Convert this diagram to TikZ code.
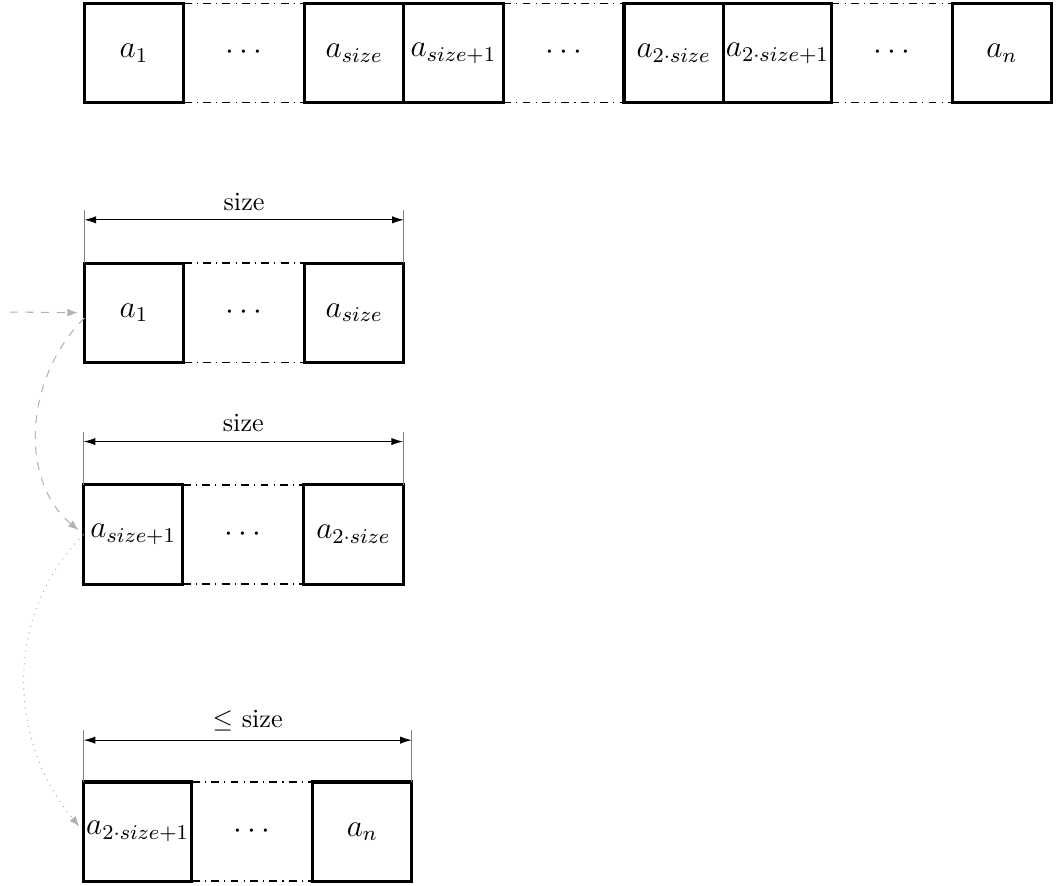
\documentclass[tikz,border=0pt]{standalone}
\usetikzlibrary{positioning,arrows.meta}
\begin{document}
\begin{tikzpicture}[node distance=0pt,
	cell/.style={draw,very thick,minimum size=1.33cm,inner sep=1pt,outer sep=0pt,font=\large},
	gap/.style={minimum width=1.62cm,minimum height=1.33cm,inner sep=0pt,outer sep=0pt,font=\large},
	link/.style={dashdotted,semithick},
	dim/.style={{Latex[length=4.5pt,width=2.8pt]}-{Latex[length=4.5pt,width=2.8pt]}},
	tick/.style={gray},
	flow/.style={gray!60,-{Latex[length=4pt,width=3pt]},shorten >=2.5pt}]
	\useasboundingbox (0,0) rectangle (14.2,-11.86);
	% the whole sequence
	\node[cell,anchor=west]	(s1) at (1.13,-0.71)	{$a_1$};
	\node[gap,right=of s1]	(g1)	{$\cdots$};
	\node[cell,right=of g1]	(s2)	{$a_{size}$};
	\node[cell,right=of s2]	(s3)	{$a_{size+1}$};
	\node[gap,right=of s3]	(g2)	{$\cdots$};
	\node[cell,right=of g2]	(s4)	{$a_{2\cdot size}$};
	\node[cell,right=of s4]	(s5)	{$a_{2\cdot size+1}$};
	\node[gap,right=of s5]	(g3)	{$\cdots$};
	\node[cell,right=of g3]	(s6)	{$a_n$};
	\draw[link] (s1.north east) -- (s2.north west);
	\draw[link] (s1.south east) -- (s2.south west);
	\draw[link] (s3.north east) -- (s4.north west);
	\draw[link] (s3.south east) -- (s4.south west);
	\draw[link] (s5.north east) -- (s6.north west);
	\draw[link] (s5.south east) -- (s6.south west);
	% first chunk
	\node[cell,anchor=west]	(p1) at (1.13,-4.19)	{$a_1$};
	\node[gap,right=of p1]	(pg)	{$\cdots$};
	\node[cell,right=of pg]	(p2)	{$a_{size}$};
	\draw[link] (p1.north east) -- (p2.north west);
	\draw[link] (p1.south east) -- (p2.south west);
	\draw[tick] (p1.north west) -- ++(0,0.71);
	\draw[tick] (p2.north east) -- ++(0,0.71);
	\coordinate (pl) at ([yshift=0.58cm]p1.north west);
	\coordinate (pr) at ([yshift=0.58cm]p2.north east);
	\draw[dim] (pl) -- node[above] {size} (pr);
	% second chunk
	\node[cell,anchor=west]	(q1) at (1.12,-7.16)	{$a_{size+1}$};
	\node[gap,right=of q1]	(qg)	{$\cdots$};
	\node[cell,right=of qg]	(q2)	{$a_{2\cdot size}$};
	\draw[link] (q1.north east) -- (q2.north west);
	\draw[link] (q1.south east) -- (q2.south west);
	\draw[tick] (q1.north west) -- ++(0,0.71);
	\draw[tick] (q2.north east) -- ++(0,0.71);
	\coordinate (ql) at ([yshift=0.58cm]q1.north west);
	\coordinate (qr) at ([yshift=0.58cm]q2.north east);
	\draw[dim] (ql) -- node[above] {size} (qr);
	% last chunk
	\node[cell,anchor=west]	(r1) at (1.12,-11.14)	{$a_{2\cdot size+1}$};
	\node[gap,right=of r1]	(rg)	{$\cdots$};
	\node[cell,right=of rg]	(r2)	{$a_n$};
	\draw[link] (r1.north east) -- (r2.north west);
	\draw[link] (r1.south east) -- (r2.south west);
	\draw[tick] (r1.north west) -- ++(0,0.69);
	\draw[tick] (r2.north east) -- ++(0,0.69);
	\coordinate (rl) at ([yshift=0.56cm]r1.north west);
	\coordinate (rr) at ([yshift=0.56cm]r2.north east);
	\draw[dim] (rl) -- node[above] {$\leq$ size} (rr);
	% walking through the chunks
	\coordinate (in) at (0.13,-4.18);
	\draw[flow,dashed] (in) -- (p1.west);
	\draw[flow,dashed] (p1.186) to[out=225,in=140] (q1.west);
	\draw[flow,dotted] (q1.west) to[out=225,in=130] (r1.west);
\end{tikzpicture}
\end{document}
